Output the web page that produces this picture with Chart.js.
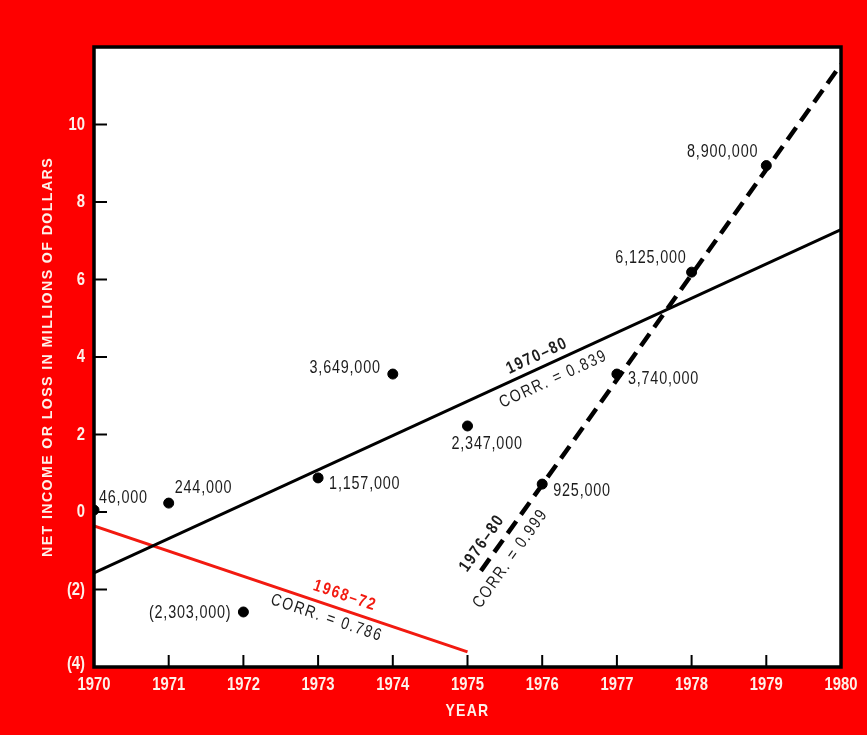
<!DOCTYPE html>
<html>
<head>
<meta charset="utf-8">
<title>Net income 1970-80</title>
<script src="https://cdn.jsdelivr.net/npm/chart.js@4.4.1/dist/chart.umd.min.js"></script>
<style>
    html, body { margin: 0; padding: 0; background: #fe0000; }
    #wrap { width: 867px; height: 735px; }
</style>
</head>
<body>
<div id="wrap"><canvas id="incomeChart" width="867" height="735"></canvas></div>
<script>
'use strict';

/* ── data ───────────────────────────────────────────────────────────────── */
const YEARS = [1970, 1971, 1972, 1973, 1974, 1975, 1976, 1977, 1978, 1979];
const INCOME = [0.05, 0.23, -2.58, 0.88, 3.56, 2.22, 0.72, 3.56, 6.19, 8.94];   // millions, as plotted
const INCOME_LABELS = ['46,000', '244,000', '(2,303,000)', '1,157,000', '3,649,000',
                       '2,347,000', '925,000', '3,740,000', '6,125,000', '8,900,000'];

// regression lines (end points)
const TREND_7080_X = [1970, 1980];
const TREND_7080_Y = [-1.57, 7.29];
const TREND_6872_X = [1970, 1975];
const TREND_6872_Y = [-0.36, -3.61];
const TREND_7680_X = [1975.18, 1980];
const TREND_7680_Y = [-1.52, 11.55];

const X_MIN = 1970, X_MAX = 1980;
const Y_MIN = -4, Y_MAX = 12;

/* ── styling ────────────────────────────────────────────────────────────── */
// no condensed face installed, so Liberation Sans is squeezed horizontally
const SANS = "'Liberation Sans', Arial, sans-serif";
const SQUEEZE = 0.8;
const INK = '#1c1c1c';
const RED = '#f21a10';
const TICK_WHITE = '#fdf1ea';

// label offsets from each point, in px: [dx, dy, align]
const LABEL_OFFSETS = [
    [5, -12, 'left'], [6, -15, 'left'], [-12, 1, 'right'], [11, 6, 'left'], [-12, -6, 'right'],
    [-16, 18, 'left'], [11, 7, 'left'], [11, 5, 'left'], [-5, -14, 'right'], [-8, -14, 'right'],
];

// notes written along the trend lines: dataset index, year on line, offset across line
const LINE_NOTES = [
    { ds: 1, year: 1976.0, off: 12, text: '1970–80', bold: true, color: INK },
    { ds: 1, year: 1976.06, off: -16, text: 'CORR. = 0.839', bold: false, color: INK },
    { ds: 2, year: 1973.3, off: 14, text: '1968–72', bold: true, color: RED },
    { ds: 2, year: 1973.17, off: -13, text: 'CORR. = 0.786', bold: false, color: INK },
    { ds: 3, year: 1975.36, off: 15, text: '1976–80', bold: true, color: INK },
    { ds: 3, year: 1975.39, off: -17, text: 'CORR. = 0.999', bold: false, color: INK },
];

const pairs = (xs, ys) => xs.map((x, i) => ({ x, y: ys[i] }));

/**
 * Draw condensed-looking text: squeezed along its own baseline,
 * optionally rotated, optionally stretched to an exact width.
 */
function narrowText(ctx, text, x, y, o) {
    ctx.save();
    ctx.font = o.font;
    ctx.letterSpacing = o.spacing || '0px';
    ctx.fillStyle = o.color;
    ctx.textBaseline = 'middle';
    ctx.textAlign = o.align || 'left';
    ctx.translate(x, y);
    if (o.angle) ctx.rotate(o.angle);
    const sx = o.fit ? o.fit / ctx.measureText(text).width : (o.sx || SQUEEZE);
    ctx.scale(sx, 1);
    ctx.fillText(text, 0, 0);
    ctx.restore();
}

/* ── plugins ────────────────────────────────────────────────────────────── */
const plotFrame = {
    id: 'plotFrame',
    beforeDraw(chart) {
        const { ctx, chartArea: a } = chart;
        ctx.save();
        ctx.fillStyle = '#ffffff';
        ctx.fillRect(a.left, a.top, a.right - a.left, a.bottom - a.top);
        ctx.restore();
    },
    afterDatasetsDraw(chart) {
        const { ctx, chartArea: a, scales } = chart;
        ctx.save();
        ctx.strokeStyle = '#000';
        ctx.lineWidth = 2;
        // inward tick marks
        for (let yr = X_MIN + 1; yr < X_MAX; yr++) {
            const px = scales.x.getPixelForValue(yr);
            ctx.beginPath(); ctx.moveTo(px, a.bottom); ctx.lineTo(px, a.bottom - 12); ctx.stroke();
        }
        for (let v = Y_MIN + 2; v < Y_MAX; v += 2) {
            const py = scales.y.getPixelForValue(v);
            ctx.beginPath(); ctx.moveTo(a.left, py); ctx.lineTo(a.left + 13, py); ctx.stroke();
        }
        ctx.lineWidth = 3.5;
        ctx.strokeRect(a.left, a.top, a.right - a.left, a.bottom - a.top);
        ctx.restore();
    },
};

const textLayer = {
    id: 'textLayer',
    afterDraw(chart) {
        const { ctx, scales, chartArea: a } = chart;

        // tick labels, taken from the scales' own ticks
        const tickFont = `bold 19px ${SANS}`;
        scales.x.ticks.forEach(t => {
            narrowText(ctx, String(t.value), scales.x.getPixelForValue(t.value), a.bottom + 18,
                { font: tickFont, color: TICK_WHITE, align: 'center', sx: 0.78 });
        });
        scales.y.ticks.forEach(t => {
            if (t.value === Y_MAX) return;
            const txt = t.value < 0 ? `(${-t.value})` : String(t.value);
            const py = Math.min(scales.y.getPixelForValue(t.value), a.bottom - 3);
            narrowText(ctx, txt, a.left - 9, py, { font: tickFont, color: TICK_WHITE, align: 'right', sx: 0.78 });
        });

        // point values
        YEARS.forEach((yr, i) => {
            const [dx, dy, align] = LABEL_OFFSETS[i];
            narrowText(ctx, INCOME_LABELS[i], scales.x.getPixelForValue(yr) + dx, scales.y.getPixelForValue(INCOME[i]) + dy,
                { font: `18px ${SANS}`, color: INK, align, spacing: '1px', sx: 0.8 });
        });

        // notes along the regression lines
        LINE_NOTES.forEach(n => {
            const pts = chart.data.datasets[n.ds].data;
            const x0 = scales.x.getPixelForValue(pts[0].x), y0 = scales.y.getPixelForValue(pts[0].y);
            const x1 = scales.x.getPixelForValue(pts[1].x), y1 = scales.y.getPixelForValue(pts[1].y);
            const len = Math.hypot(x1 - x0, y1 - y0);
            const dx = (x1 - x0) / len, dy = (y1 - y0) / len;
            const fx = scales.x.getPixelForValue(n.year);
            const fy = y0 + (fx - x0) * (y1 - y0) / (x1 - x0);
            narrowText(ctx, n.text, fx + dy * n.off, fy - dx * n.off, {
                font: `${n.bold ? 'bold ' : ''}17px ${SANS}`,
                color: n.color,
                align: 'center',
                spacing: '2px',
                angle: Math.atan2(dy, dx),
                sx: 0.82,
            });
        });

        // axis titles
        narrowText(ctx, 'NET INCOME OR LOSS IN MILLIONS OF DOLLARS', 48, (a.top + a.bottom) / 2,
            { font: `bold 15px ${SANS}`, color: TICK_WHITE, align: 'center', spacing: '1.5px',
              angle: -Math.PI / 2, fit: 400 });
        narrowText(ctx, 'YEAR', (a.left + a.right) / 2, 711,
            { font: `bold 17px ${SANS}`, color: TICK_WHITE, align: 'center', spacing: '1.5px', fit: 44 });
    },
};

/* ── chart ──────────────────────────────────────────────────────────────── */
const ctx = document.getElementById('incomeChart').getContext('2d');
new Chart(ctx, {
    type: 'scatter',
    data: {
        datasets: [
            {
                label: 'Net income',
                data: pairs(YEARS, INCOME),
                backgroundColor: '#000',
                borderColor: '#000',
                pointRadius: 5,
                order: 0,
            },
            {
                type: 'line',
                label: '1970–80',
                data: pairs(TREND_7080_X, TREND_7080_Y),
                borderColor: '#000',
                borderWidth: 3,
                pointRadius: 0,
                order: 1,
            },
            {
                type: 'line',
                label: '1968–72',
                data: pairs(TREND_6872_X, TREND_6872_Y),
                borderColor: RED,
                borderWidth: 3,
                pointRadius: 0,
                order: 2,
            },
            {
                type: 'line',
                label: '1976–80',
                data: pairs(TREND_7680_X, TREND_7680_Y),
                borderColor: '#000',
                borderWidth: 4.5,
                borderDash: [15, 8],
                pointRadius: 0,
                order: 3,
            },
        ],
    },
    options: {
        responsive: false,
        animation: false,
        devicePixelRatio: 1,
        layout: { padding: { top: 47, right: 26, left: 0, bottom: 0 } },
        plugins: {
            legend: { display: false },
            tooltip: { enabled: false },
        },
        scales: {
            x: {
                type: 'linear',
                min: X_MIN,
                max: X_MAX,
                grid: { display: false, drawTicks: false },
                border: { display: false },
                ticks: { stepSize: 1, display: false },
                afterFit: s => { s.height = 68; },
            },
            y: {
                min: Y_MIN,
                max: Y_MAX,
                grid: { display: false, drawTicks: false },
                border: { display: false },
                ticks: { stepSize: 2, display: false },
                afterFit: s => { s.width = 94; },
            },
        },
    },
    plugins: [plotFrame, textLayer],
});
</script>
</body>
</html>
